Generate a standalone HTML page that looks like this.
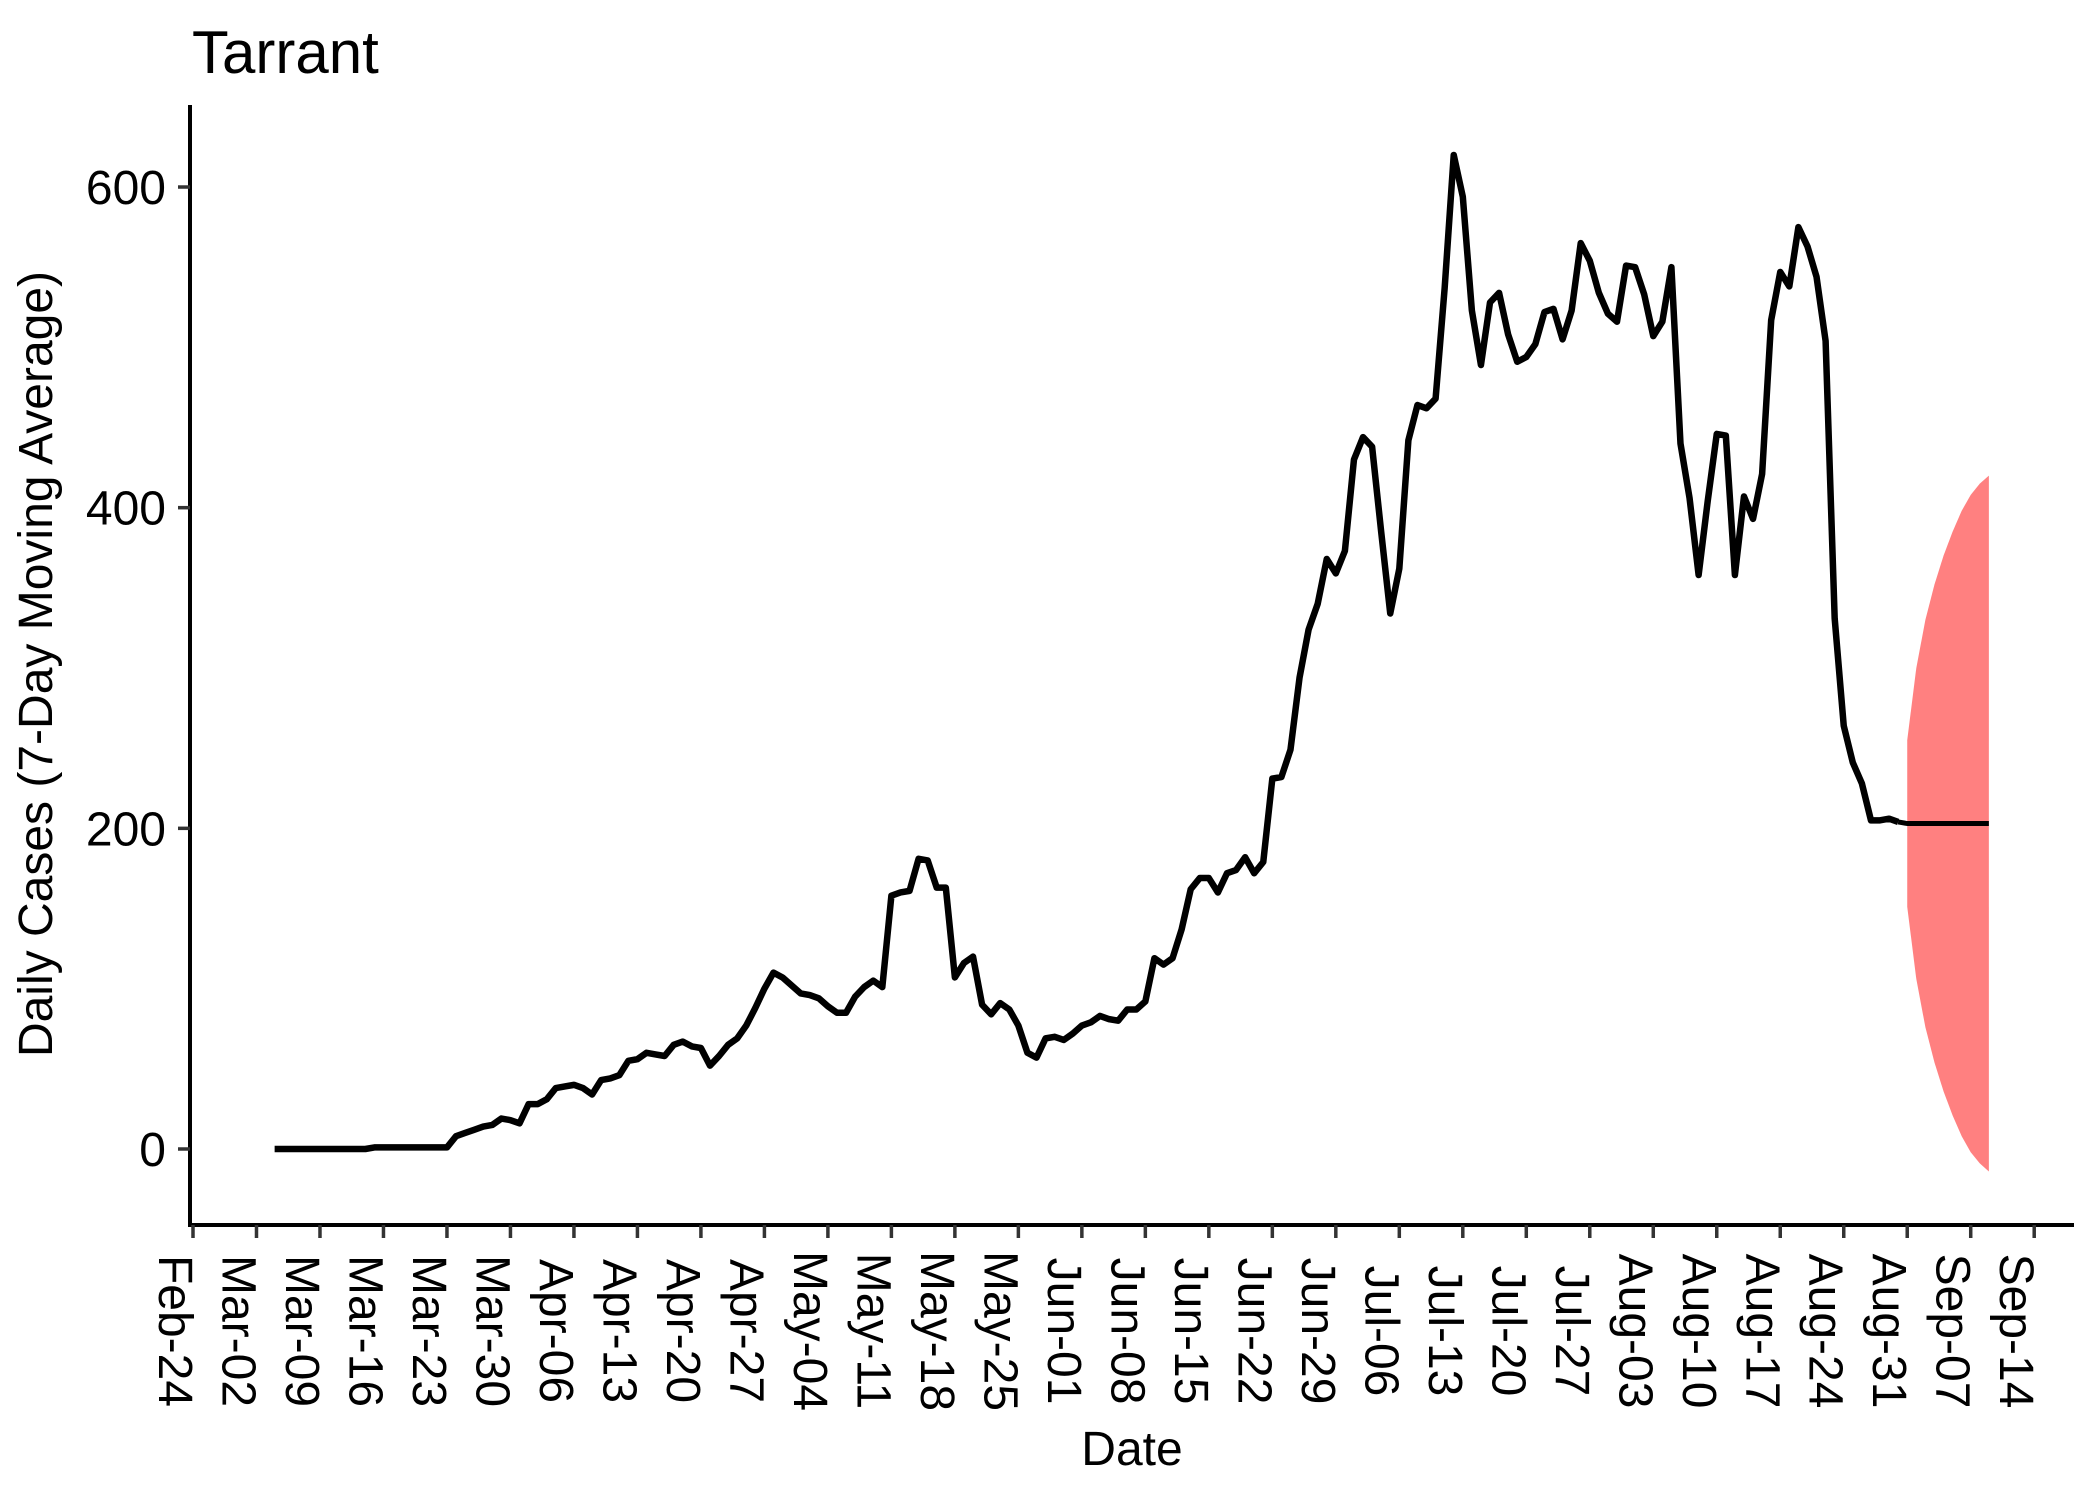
<!DOCTYPE html>
<html><head><meta charset="utf-8"><style>
html,body{margin:0;padding:0;background:#fff;}
svg{display:block;font-family:"Liberation Sans",Arial,sans-serif;}
</style></head><body>
<svg id="chart" width="2100" height="1499" viewBox="0 0 2100 1499">
<rect width="2100" height="1499" fill="#fff"/>
<text x="192" y="73" font-size="60" fill="#000">Tarrant</text>
<g id="band"></g>
<g id="series"></g>
<g id="axes"></g>
<text transform="translate(52,664) rotate(-90)" text-anchor="middle" font-size="48" fill="#000">Daily Cases (7-Day Moving Average)</text>
<text x="1132" y="1465" text-anchor="middle" font-size="48" fill="#000">Date</text>
</svg>
<script>
// day index counted from Feb-24
const startDay = 9;
const cases = [0,0,0,0,0,0,0,0,0,0,0,1,1,1,1,1,1,1,1,1,
8,10,12,14,15,19,18,16,28,28,31,38,39,40,38,34,43,44,46,55,56,60,59,58,65,67,64,63,52,58,
65,69,77,88,100,110,107,102,97,96,94,89,85,85,95,101,105,101,158,160,161,181,180,163,163,107,116,120,90,84,
91,87,77,60,57,69,70,68,72,77,79,83,81,80,87,87,92,119,115,119,137,162,169,169,160,172,174,182,172,179,
231,232,249,294,324,340,368,359,373,430,444,438,385,334,362,442,464,462,468,537,620,594,523,489,528,534,508,491,494,502,
522,524,505,523,565,554,534,521,516,551,550,533,507,516,550,440,406,358,404,446,445,358,407,393,421,517,547,538,575,563,
544,504,331,264,241,228,205,205,206,204];
const fcStart = 189;
const fcMean  = [203,203,203,203,203,203,203,203,203,203];
const fcUpper = [255,300,330,352,370,385,398,408,415,420];
const fcLower = [151,106,76,54,36,21,8,-2,-9,-14];
const yTicks = [0,200,400,600];
const xTickLabels = ["Feb-24","Mar-02","Mar-09","Mar-16","Mar-23","Mar-30","Apr-06","Apr-13","Apr-20","Apr-27","May-04","May-11","May-18","May-25","Jun-01","Jun-08","Jun-15","Jun-22","Jun-29","Jul-06","Jul-13","Jul-20","Jul-27","Aug-03","Aug-10","Aug-17","Aug-24","Aug-31","Sep-07","Sep-14"];

const NS = "http://www.w3.org/2000/svg";
const X = d => 193 + d * 9.07;
const Y = v => 1149 - v * 1.6033;
function mk(tag, attrs, parent){ const e=document.createElementNS(NS,tag); for(const k in attrs) e.setAttribute(k,attrs[k]); parent.appendChild(e); return e; }

// forecast band
const band = document.getElementById('band');
let pts = [];
fcUpper.forEach((v,i)=>pts.push(X(fcStart+i)+','+Y(v)));
for(let i=fcLower.length-1;i>=0;i--) pts.push(X(fcStart+i)+','+Y(fcLower[i]));
const poly = mk('polygon',{points:pts.join(' '),fill:'#FF8080',stroke:'none'},band);



// series line
const series = document.getElementById('series');
const lp = cases.map((v,i)=>X(startDay+i)+','+Y(v));
const line = mk('polyline',{points:lp.join(' '),fill:'none',stroke:'#000','stroke-width':6.5,'stroke-linejoin':'round'},series);


const fp = [X(startDay+cases.length-1)+','+Y(cases[cases.length-1])].concat(fcMean.map((v,i)=>X(fcStart+i)+','+Y(v)));
const fline = mk('polyline',{points:fp.join(' '),fill:'none',stroke:'#000','stroke-width':5},series);



// axes
const axes = document.getElementById('axes');
const ya = mk('line',{x1:190,y1:105,x2:190,y2:1227,stroke:'#000','stroke-width':4},axes);


const xa = mk('line',{x1:188,y1:1225,x2:2074,y2:1225,stroke:'#000','stroke-width':4},axes);


yTicks.forEach(v=>{
  const t = mk('line',{x1:178,y1:Y(v),x2:190,y2:Y(v),stroke:'#333','stroke-width':3.5},axes);
  
  
  const l = mk('text',{x:166,y:Y(v)+17,'text-anchor':'end','font-size':48,fill:'#000'},axes);
  l.textContent = v;
  
  
});
xTickLabels.forEach((s,i)=>{
  const x = X(i*7);
  const t = mk('line',{x1:x,y1:1225,x2:x,y2:1238,stroke:'#333','stroke-width':3.5},axes);
  
  
  const l = mk('text',{transform:'translate('+(x-34)+',1331) rotate(90)','text-anchor':'middle','font-size':48,fill:'#000'},axes);
  l.textContent = s;
  
  
});
</script>
</body></html>
